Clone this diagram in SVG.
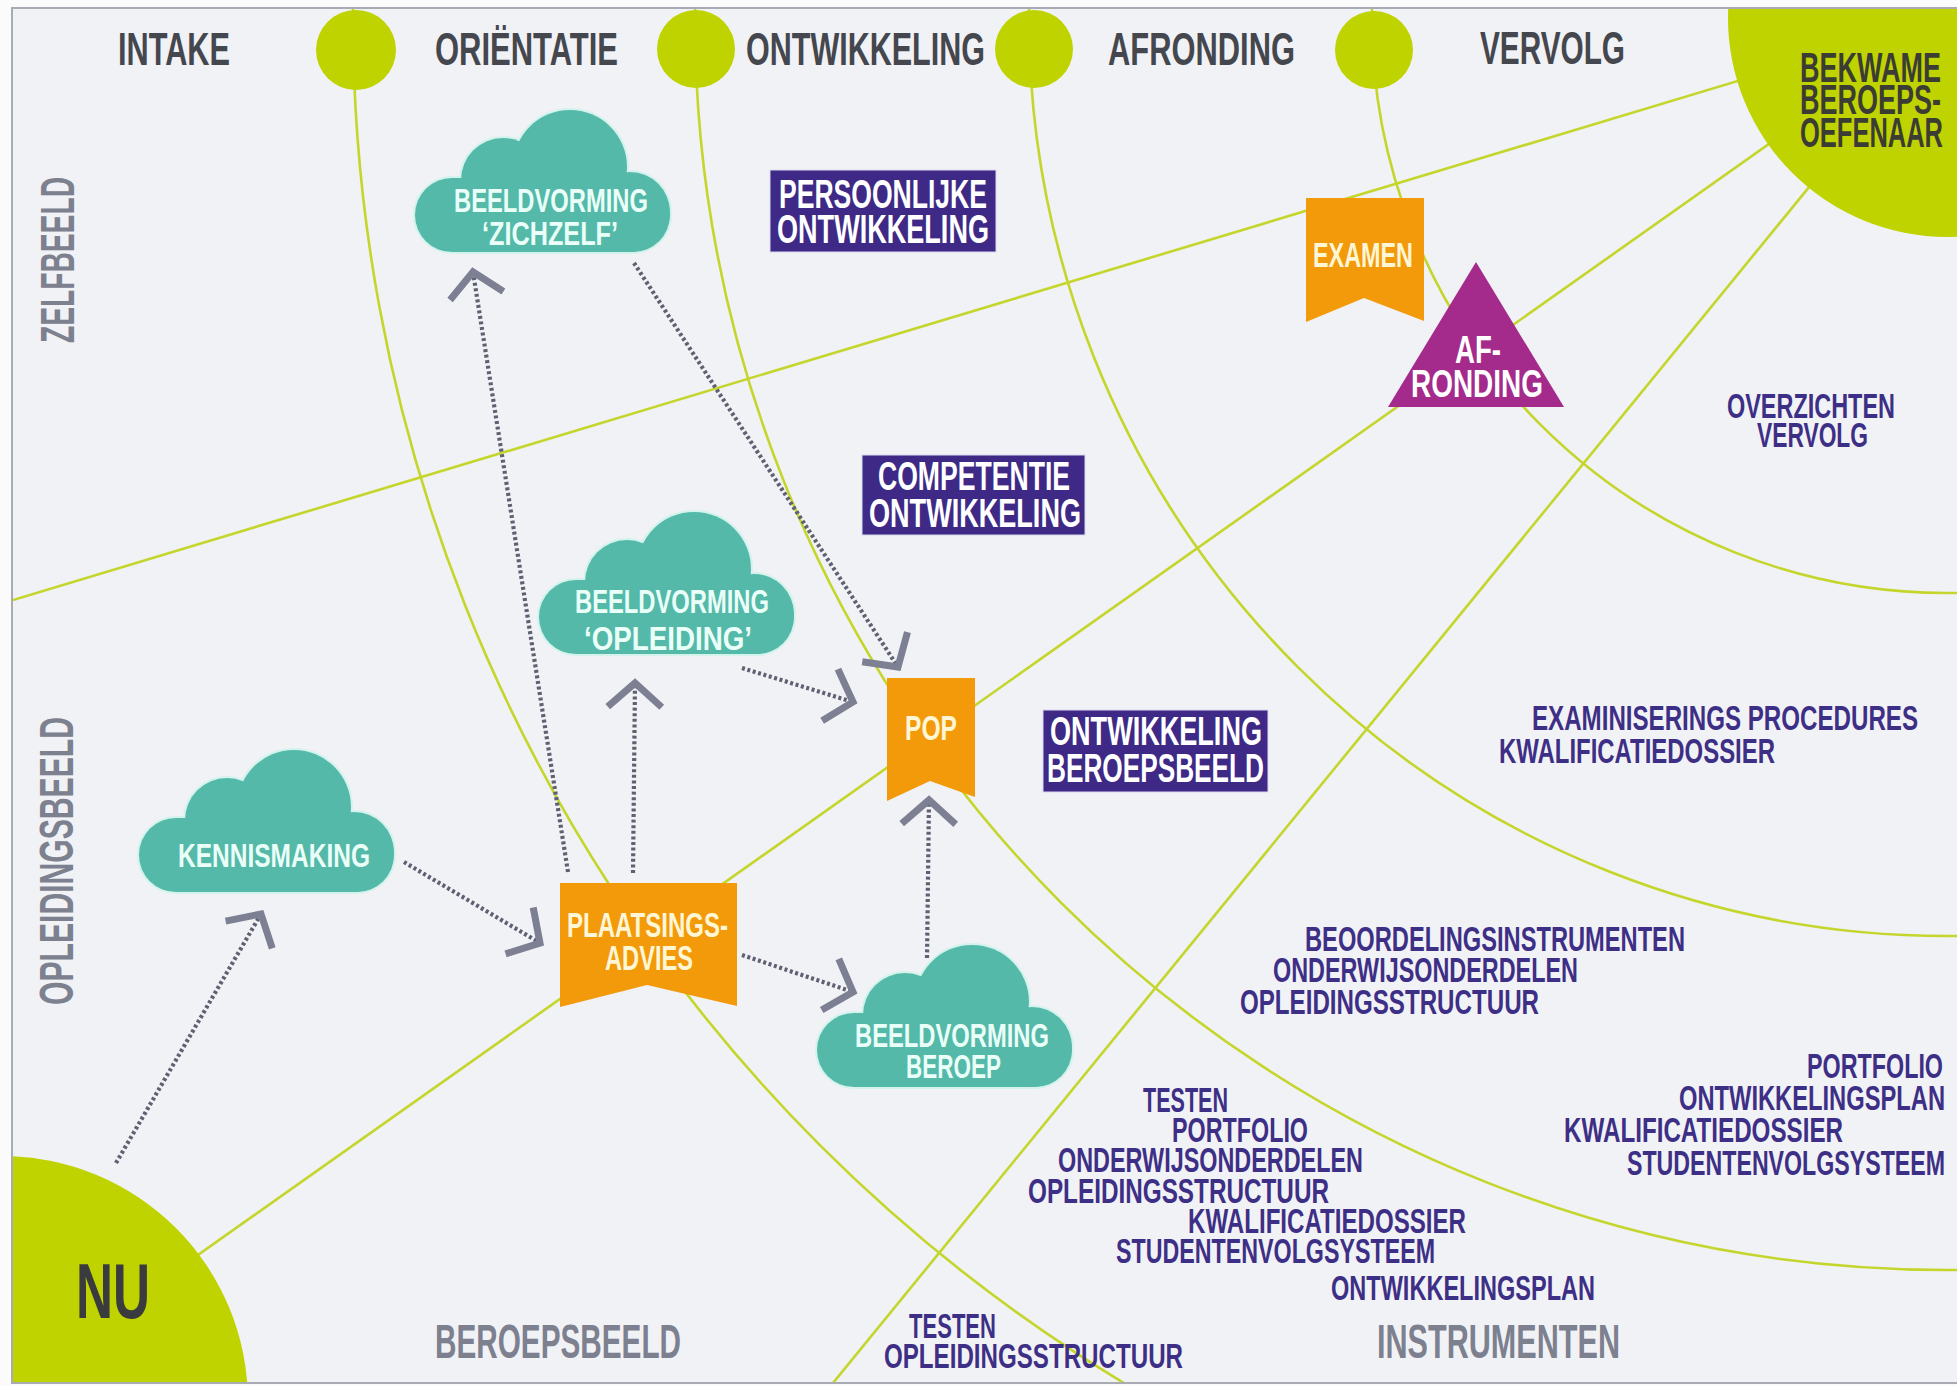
<svg xmlns="http://www.w3.org/2000/svg" xmlns:xlink="http://www.w3.org/1999/xlink" width="1957" height="1386" viewBox="0 0 1957 1386">
<style>
.t{font-family:"Liberation Sans","DejaVu Sans",Arial,sans-serif;font-weight:bold;}
.e{text-anchor:end;}
.hdr{font-size:46px;fill:#45474e;}
.axis{font-size:49px;fill:#7c808f;}
.nu{font-size:78px;fill:#3a3b3f;}
.bek{font-size:42px;fill:#3b3d35;}
.box{font-size:40px;fill:#ffffff;}
.cl{font-size:34px;fill:#eafff8;}
.ban{font-size:35px;fill:#fff6d5;}
.tri{font-size:38px;fill:#ffffff;}
.pur{font-size:35px;fill:#3e2f86;}
.gl{fill:none;stroke:#c4d62c;stroke-width:2.6;}
.green{fill:#bfd300;}
.orange{fill:#f39a0b;}
.ibox{fill:#3e2a86;stroke:#d9d8ee;stroke-width:1;}
.dot{fill:none;stroke:#5f6173;stroke-width:4.2;stroke-dasharray:3 2.6;marker-end:url(#chev);}
</style>
<defs>
<clipPath id="frameClip"><rect x="13" y="9" width="1950" height="1373"/></clipPath>
<marker id="chev" markerUnits="userSpaceOnUse" orient="auto" markerWidth="60" markerHeight="60" viewBox="-30 -30 60 60" refX="0" refY="0" overflow="visible">
<path d="M-24,-27 L0,0 L-24,27" fill="none" stroke="#7d7f92" stroke-width="7" stroke-linejoin="miter"/>
</marker>
<g id="cloudShape">
<rect x="0" y="68" width="255" height="74" rx="37"/>
<circle cx="88" cy="70" r="42"/>
<circle cx="155" cy="57" r="57"/>
<circle cx="215" cy="102" r="40"/>
</g>
</defs>

<rect x="0" y="0" width="1957" height="1386" fill="#fbfbfc"/>
<rect x="12" y="8" width="1955" height="1375" fill="#f1f2f5"/>

<g id="grid-lines" clip-path="url(#frameClip)">
<circle class="gl" cx="1947" cy="18" r="1594"/>
<circle class="gl" cx="1947" cy="18" r="1252"/>
<circle class="gl" cx="1947" cy="18" r="918"/>
<circle class="gl" cx="1947" cy="18" r="575"/>
<line class="gl" x1="1947" y1="18" x2="13" y2="600"/>
<line class="gl" x1="1947" y1="18" x2="0" y2="1395"/>
<line class="gl" x1="1947" y1="18" x2="833" y2="1383"/>
</g>

<g id="milestones" clip-path="url(#frameClip)">
<circle class="green" cx="356" cy="50" r="40"/>
<circle class="green" cx="696" cy="49" r="39"/>
<circle class="green" cx="1034" cy="49" r="39"/>
<circle class="green" cx="1374" cy="50" r="39"/>
</g>

<g id="node-bekwaam">
<circle class="green" cx="1947" cy="18" r="219" clip-path="url(#frameClip)"/>
<text class="t bek e" x="1941" y="82" textLength="141" lengthAdjust="spacingAndGlyphs">BEKWAME</text>
<text class="t bek e" x="1941" y="114" textLength="141" lengthAdjust="spacingAndGlyphs">BEROEPS-</text>
<text class="t bek e" x="1943" y="147" textLength="143" lengthAdjust="spacingAndGlyphs">OEFENAAR</text>
</g>

<g id="node-nu">
<circle class="green" cx="2" cy="1402" r="246" clip-path="url(#frameClip)"/>
<text class="t nu" x="76" y="1318" textLength="74" lengthAdjust="spacingAndGlyphs">NU</text>
</g>

<rect x="12" y="8" width="1955" height="1375" fill="none" stroke="#a8aab4" stroke-width="2"/>

<g id="headers">
<text class="t hdr" x="118" y="65" textLength="112" lengthAdjust="spacingAndGlyphs">INTAKE</text>
<text class="t hdr" x="435" y="65" textLength="183" lengthAdjust="spacingAndGlyphs">ORIËNTATIE</text>
<text class="t hdr" x="746" y="65" textLength="239" lengthAdjust="spacingAndGlyphs">ONTWIKKELING</text>
<text class="t hdr" x="1108" y="65" textLength="187" lengthAdjust="spacingAndGlyphs">AFRONDING</text>
<text class="t hdr" x="1480" y="64" textLength="145" lengthAdjust="spacingAndGlyphs">VERVOLG</text>
</g>

<g id="axis-labels">
<text class="t axis" transform="translate(74,343) rotate(-90)" textLength="166" lengthAdjust="spacingAndGlyphs">ZELFBEELD</text>
<text class="t axis" transform="translate(73,1005) rotate(-90)" textLength="288" lengthAdjust="spacingAndGlyphs">OPLEIDINGSBEELD</text>
<text class="t axis" x="435" y="1358" textLength="246" lengthAdjust="spacingAndGlyphs">BEROEPSBEELD</text>
<text class="t axis" x="1377" y="1358" textLength="243" lengthAdjust="spacingAndGlyphs">INSTRUMENTEN</text>
</g>

<g id="node-persoonlijke">
<rect class="ibox" x="770" y="170" width="226" height="82"/>
<text class="t box" x="779" y="208" textLength="208" lengthAdjust="spacingAndGlyphs">PERSOONLIJKE</text>
<text class="t box" x="777" y="243" textLength="212" lengthAdjust="spacingAndGlyphs">ONTWIKKELING</text>
</g>
<g id="node-competentie">
<rect class="ibox" x="862" y="455" width="223" height="80"/>
<text class="t box" x="878" y="490" textLength="192" lengthAdjust="spacingAndGlyphs">COMPETENTIE</text>
<text class="t box" x="869" y="527" textLength="212" lengthAdjust="spacingAndGlyphs">ONTWIKKELING</text>
</g>
<g id="node-beroepsbeeld">
<rect class="ibox" x="1043" y="710" width="225" height="82"/>
<text class="t box" x="1050" y="745" textLength="212" lengthAdjust="spacingAndGlyphs">ONTWIKKELING</text>
<text class="t box" x="1047" y="782" textLength="217" lengthAdjust="spacingAndGlyphs">BEROEPSBEELD</text>
</g>

<g id="node-zichzelf">
<g transform="translate(415,110)">
<use xlink:href="#cloudShape" href="#cloudShape" fill="none" stroke="#d4f3ec" stroke-width="4"/>
<use xlink:href="#cloudShape" href="#cloudShape" fill="#55b9aa"/>
</g>
<text class="t cl" x="454" y="212" textLength="194" lengthAdjust="spacingAndGlyphs">BEELDVORMING</text>
<text class="t cl" x="482" y="245" textLength="136" lengthAdjust="spacingAndGlyphs">‘ZICHZELF’</text>
</g>

<g id="node-opleiding">
<g transform="translate(539,512)">
<use xlink:href="#cloudShape" href="#cloudShape" fill="none" stroke="#d4f3ec" stroke-width="4"/>
<use xlink:href="#cloudShape" href="#cloudShape" fill="#55b9aa"/>
</g>
<text class="t cl" x="575" y="613" textLength="194" lengthAdjust="spacingAndGlyphs">BEELDVORMING</text>
<text class="t cl" x="584" y="650" textLength="168" lengthAdjust="spacingAndGlyphs">‘OPLEIDING’</text>
</g>

<g id="node-kennismaking">
<g transform="translate(139,750)">
<use xlink:href="#cloudShape" href="#cloudShape" fill="none" stroke="#d4f3ec" stroke-width="4"/>
<use xlink:href="#cloudShape" href="#cloudShape" fill="#55b9aa"/>
</g>
<text class="t cl" x="178" y="867" textLength="192" lengthAdjust="spacingAndGlyphs">KENNISMAKING</text>
</g>

<g id="node-beroep">
<g transform="translate(817,945)">
<use xlink:href="#cloudShape" href="#cloudShape" fill="none" stroke="#d4f3ec" stroke-width="4"/>
<use xlink:href="#cloudShape" href="#cloudShape" fill="#55b9aa"/>
</g>
<text class="t cl" x="855" y="1047" textLength="194" lengthAdjust="spacingAndGlyphs">BEELDVORMING</text>
<text class="t cl" x="906" y="1078" textLength="95" lengthAdjust="spacingAndGlyphs">BEROEP</text>
</g>

<g id="node-plaatsingsadvies">
<path class="orange" d="M560,883 H737 V1006 L647,985 L560,1007 Z"/>
<text class="t ban" x="567" y="937" textLength="161" lengthAdjust="spacingAndGlyphs">PLAATSINGS-</text>
<text class="t ban" x="605" y="970" textLength="88" lengthAdjust="spacingAndGlyphs">ADVIES</text>
</g>

<g id="node-pop">
<path class="orange" d="M887,678 H975 V797 L930,781 L887,801 Z"/>
<text class="t ban" x="905" y="740" textLength="52" lengthAdjust="spacingAndGlyphs">POP</text>
</g>

<g id="node-examen">
<path class="orange" d="M1306,198 H1424 V321 L1364,298 L1306,322 Z"/>
<text class="t ban" x="1313" y="267" textLength="100" lengthAdjust="spacingAndGlyphs">EXAMEN</text>
</g>

<g id="node-afronding">
<path d="M1476,262 L1564,407 L1388,407 Z" fill="#a42a8c"/>
<text class="t tri" x="1455" y="363" textLength="46" lengthAdjust="spacingAndGlyphs">AF-</text>
<text class="t tri" x="1411" y="397" textLength="132" lengthAdjust="spacingAndGlyphs">RONDING</text>
</g>

<g id="instrument-texts">
<text class="t pur" x="1727" y="418" textLength="168" lengthAdjust="spacingAndGlyphs">OVERZICHTEN</text>
<text class="t pur" x="1757" y="447" textLength="111" lengthAdjust="spacingAndGlyphs">VERVOLG</text>
<text class="t pur e" x="1918" y="730" textLength="386" lengthAdjust="spacingAndGlyphs">EXAMINISERINGS PROCEDURES</text>
<text class="t pur" x="1499" y="763" textLength="276" lengthAdjust="spacingAndGlyphs">KWALIFICATIEDOSSIER</text>
<text class="t pur" x="1305" y="951" textLength="380" lengthAdjust="spacingAndGlyphs">BEOORDELINGSINSTRUMENTEN</text>
<text class="t pur" x="1273" y="982" textLength="305" lengthAdjust="spacingAndGlyphs">ONDERWIJSONDERDELEN</text>
<text class="t pur" x="1240" y="1014" textLength="299" lengthAdjust="spacingAndGlyphs">OPLEIDINGSSTRUCTUUR</text>
<text class="t pur" x="1143" y="1112" textLength="85" lengthAdjust="spacingAndGlyphs">TESTEN</text>
<text class="t pur" x="1172" y="1142" textLength="136" lengthAdjust="spacingAndGlyphs">PORTFOLIO</text>
<text class="t pur" x="1058" y="1172" textLength="305" lengthAdjust="spacingAndGlyphs">ONDERWIJSONDERDELEN</text>
<text class="t pur" x="1028" y="1203" textLength="301" lengthAdjust="spacingAndGlyphs">OPLEIDINGSSTRUCTUUR</text>
<text class="t pur" x="1188" y="1233" textLength="278" lengthAdjust="spacingAndGlyphs">KWALIFICATIEDOSSIER</text>
<text class="t pur" x="1116" y="1263" textLength="319" lengthAdjust="spacingAndGlyphs">STUDENTENVOLGSYSTEEM</text>
<text class="t pur" x="1331" y="1300" textLength="264" lengthAdjust="spacingAndGlyphs">ONTWIKKELINGSPLAN</text>
<text class="t pur" x="909" y="1338" textLength="87" lengthAdjust="spacingAndGlyphs">TESTEN</text>
<text class="t pur" x="884" y="1368" textLength="299" lengthAdjust="spacingAndGlyphs">OPLEIDINGSSTRUCTUUR</text>
<text class="t pur e" x="1943" y="1078" textLength="136" lengthAdjust="spacingAndGlyphs">PORTFOLIO</text>
<text class="t pur e" x="1945" y="1110" textLength="266" lengthAdjust="spacingAndGlyphs">ONTWIKKELINGSPLAN</text>
<text class="t pur e" x="1843" y="1142" textLength="279" lengthAdjust="spacingAndGlyphs">KWALIFICATIEDOSSIER</text>
<text class="t pur e" x="1945" y="1175" textLength="318" lengthAdjust="spacingAndGlyphs">STUDENTENVOLGSYSTEEM</text>
</g>

<g id="connectors">
<path class="dot" d="M116,1163 L261,914"/>
<path class="dot" d="M404,862 L540,943"/>
<path class="dot" d="M568,872 L473,272"/>
<path class="dot" d="M633,873 L635,683"/>
<path class="dot" d="M634,263 L898,667"/>
<path class="dot" d="M742,668 L853,702"/>
<path class="dot" d="M742,955 L853,992"/>
<path class="dot" d="M927,958 L929,800"/>
</g>
</svg>
